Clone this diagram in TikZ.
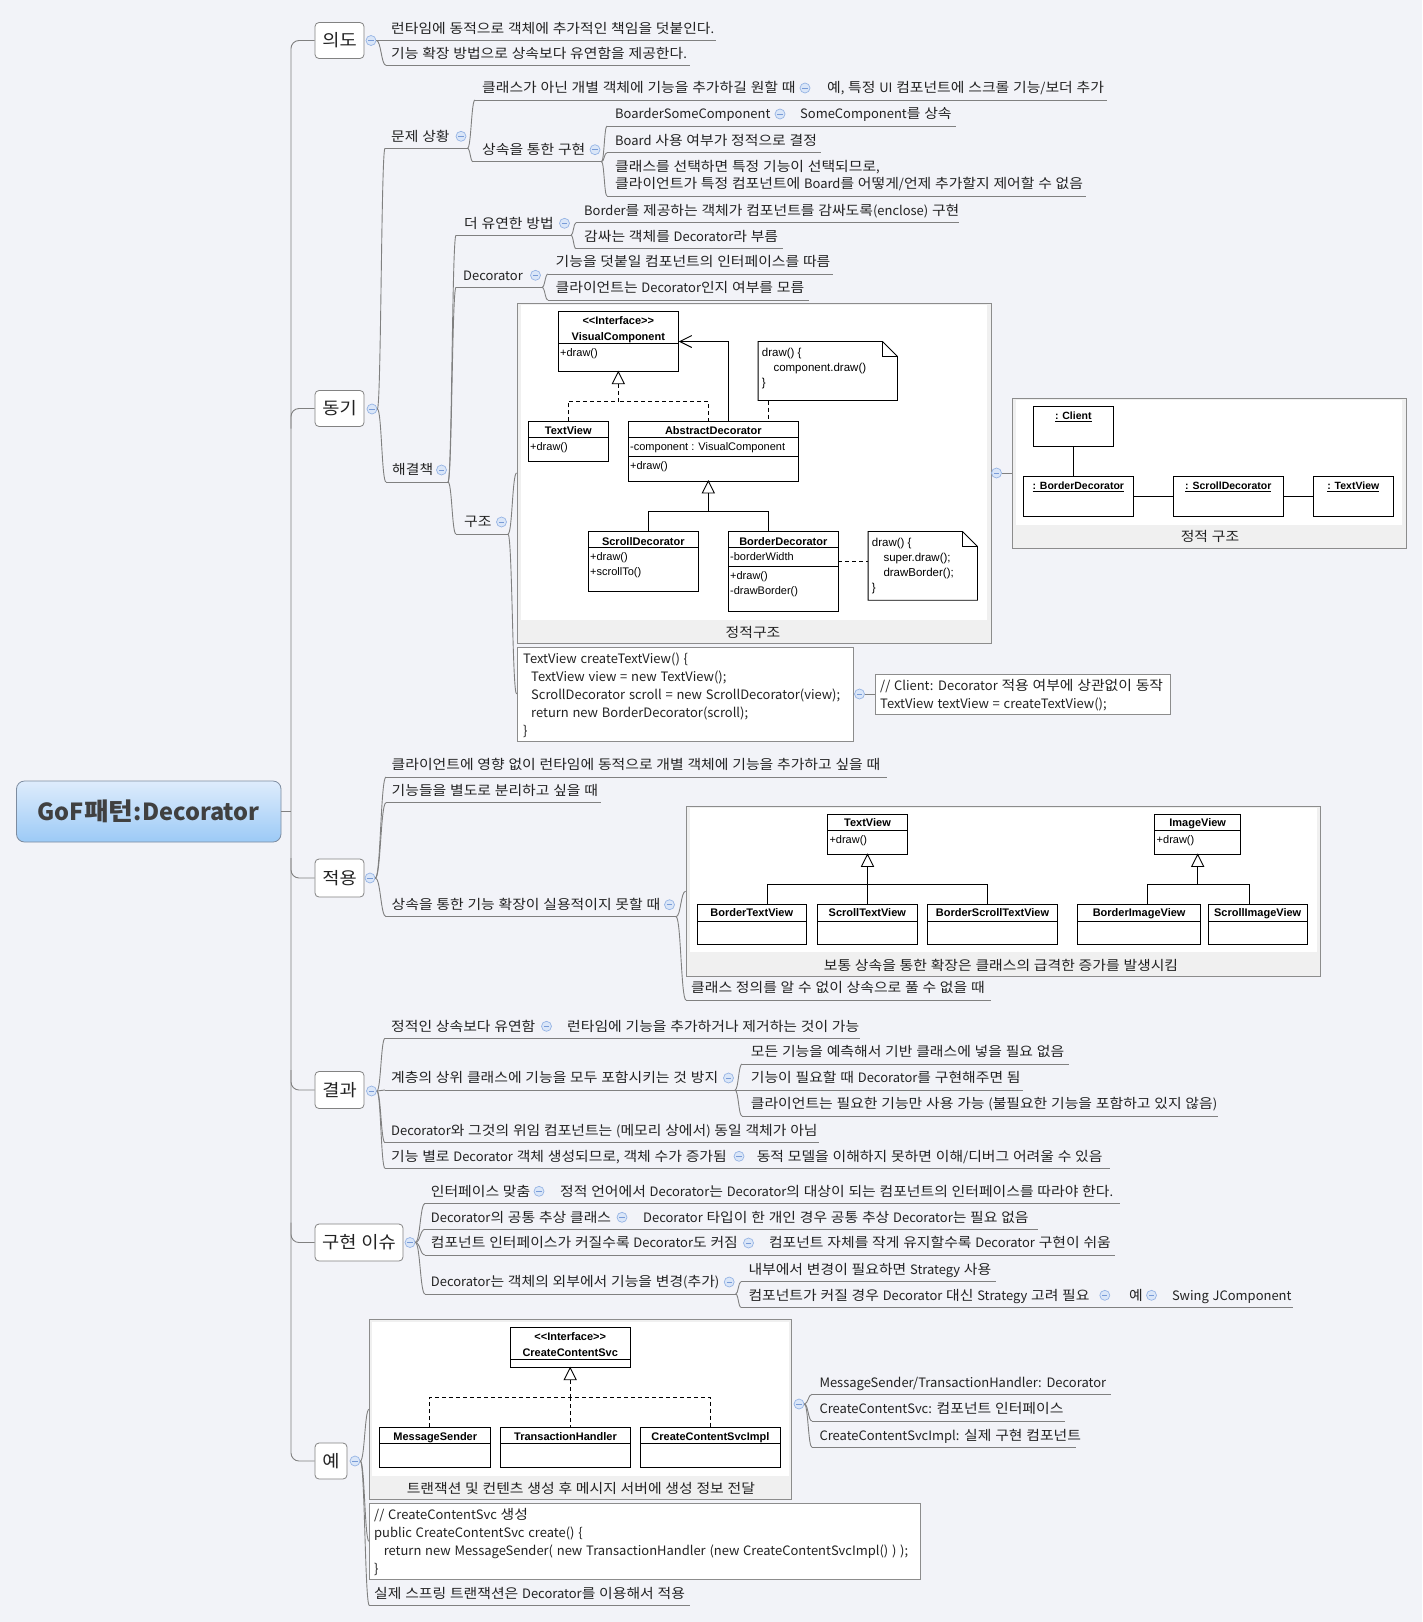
\documentclass[tikz,border=0pt]{standalone}
\usepackage{fontspec}
\setmainfont{Noto Sans CJK KR}[Scale=0.96,WordSpace=1.3]
\newfontfamily\krfont{Noto Sans CJK KR}[FakeStretch=1.1]
\newfontfamily\umlf{Liberation Sans}
\usetikzlibrary{calc,arrows.meta}

% Hangul syllables are set in a slightly wider face than the Latin text
\XeTeXinterchartokenstate=1
\newXeTeXintercharclass\krclass
\newcount\krcnt
\krcnt="AC00
\loop
  \XeTeXcharclass\krcnt=\krclass
  \advance\krcnt by 1
\ifnum\krcnt<"D7A4 \repeat
\XeTeXinterchartoks 0 \krclass = {\krfont}
\XeTeXinterchartoks 4095 \krclass = {\krfont}
\XeTeXinterchartoks \krclass 0 = {\rmfamily}
\XeTeXinterchartoks \krclass 4095 = {\rmfamily}

\definecolor{bgc}{RGB}{242,243,248}
\definecolor{lnc}{RGB}{128,128,128}
\definecolor{txt}{RGB}{34,34,34}
\definecolor{boxb}{RGB}{130,130,130}
\definecolor{colb}{RGB}{150,180,228}
\definecolor{colf}{RGB}{218,230,248}
\definecolor{colm}{RGB}{120,155,215}
\definecolor{rootb}{RGB}{125,140,160}
\definecolor{roott}{RGB}{222,236,252}
\definecolor{rootd}{RGB}{156,202,246}
\definecolor{roottx}{RGB}{64,64,64}
\definecolor{imgb}{RGB}{140,140,140}
\definecolor{capbg}{RGB}{240,240,240}

\newcommand\tsz{\fontsize{13.5}{17.3}\selectfont}
% topic: name, underline start x, text x, underline end x, underline y, text
\newcommand\tpc[6]{%
  \coordinate (#1-s) at (#2,#5);
  \coordinate (#1-e) at (#4,#5);
  \node[tp] (#1) at (#3,#5) {#6};
  \draw[ln] (#1-s) -- (#1-e);}
% collapse marker near the end of a topic's underline
\newcommand\tcol[1]{\node[col] (#1-c) at ($(#1-e)+(-6.5,-12)$) {};}
% curved branch from a parent point to a child point
\newcommand\conn[2]{\draw[ln] (#1) .. controls ($(#1)!.5!(#1 -| #2)$) and ($(#2)!.5!(#2 -| #1)$) .. (#2);}

\begin{document}
\begin{tikzpicture}[x=1pt,y=-1pt,
  ln/.style={draw=lnc,line width=0.9pt},
  tp/.style={anchor=south west,inner xsep=0pt,inner ysep=5pt,text height=12.2pt,text depth=2pt,font=\tsz,text=txt,align=left},
  col/.style={circle,draw=colb,fill=colf,minimum size=10pt,inner sep=0pt,line width=0.7pt,
    path picture={\draw[colm,line width=1pt] ([xshift=-2.6pt]path picture bounding box.center) -- ([xshift=2.6pt]path picture bounding box.center);}},
  l1/.style={draw=boxb,fill=white,rounded corners=4pt,minimum height=36pt,inner sep=0pt,font=\fontsize{17}{20}\selectfont,text=txt,line width=0.8pt},
  root/.style={draw=rootb,rounded corners=8pt,top color=roott,bottom color=rootd,minimum width=264.5pt,minimum height=61pt,inner sep=0pt,font=\bfseries\fontsize{24.5}{28}\selectfont,text=roottx,line width=0.8pt},
  imgbox/.style={draw=imgb,fill=capbg,inner sep=0pt,line width=0.8pt},
  codebox/.style={draw=imgb,fill=white,inner sep=0pt,line width=0.8pt},
  captxt/.style={inner sep=0pt,font=\tsz,text=txt},
  code/.style={anchor=base west,inner sep=0pt,font=\tsz,text=txt},
  cls/.style={draw=black,fill=white,line width=0.9pt,inner sep=0pt},
  um/.style={draw=black,line width=0.9pt},
  umd/.style={um,dash pattern=on 4pt off 3pt},
  ut/.style={anchor=base west,inner sep=0pt,font=\umlf\fontsize{11}{13}\selectfont},
  ub/.style={anchor=base,inner sep=0pt,font=\umlf\bfseries\fontsize{11}{13}\selectfont},
  uo/.style={anchor=base,inner sep=0pt,font=\umlf\bfseries\fontsize{10.5}{13}\selectfont},
  nt/.style={anchor=base west,inner sep=0pt,font=\umlf\fontsize{11.5}{14}\selectfont}
]
\path[use as bounding box,fill=bgc] (0,0) rectangle (1422,1622);

% ---------- root and first level ----------
\node[root] (root) at (148.75,811.5) {GoF패턴:Decorator};
\node[l1,minimum width=49pt] (yi) at (339.5,40.5) {의도};
\node[l1,minimum width=49pt] (dg) at (339.5,408.5) {동기};
\node[l1,minimum width=49pt,minimum height=38pt] (jy) at (339.5,878) {적용};
\node[l1,minimum width=49pt,minimum height=37pt] (gg) at (339.5,1090) {결과};
\node[l1,minimum width=88pt,minimum height=37pt] (gh) at (359,1242.5) {구현 이슈};
\node[l1,minimum width=32pt] (ye) at (331,1461) {예};

\coordinate (trunk) at (291,0);
\draw[ln,rounded corners=8pt] (yi.west) -| (root.east -| trunk) |- (ye.west);
\draw[ln] (root.east) -- (root.east -| trunk);
\draw[ln,rounded corners=8pt] ($(dg.west -| trunk)+(0,20)$) |- (dg.west);
\draw[ln,rounded corners=8pt] ($(jy.west -| trunk)+(0,-20)$) |- (jy.west);
\draw[ln,rounded corners=8pt] ($(gg.west -| trunk)+(0,-20)$) |- (gg.west);
\draw[ln,rounded corners=8pt] ($(gh.west -| trunk)+(0,-20)$) |- (gh.west);

\node[col] (yi-c) at (371,40.5) {};
\node[col] (dg-c) at (372,409) {};
\node[col] (jy-c) at (370,878) {};
\node[col] (gg-c) at (371.5,1091) {};
\node[col] (gh-c) at (410,1242.5) {};
\node[col] (ye-c) at (355,1461) {};

% ---------- 의도 ----------
\tpc{i1}{377}{391}{716}{40.5}{런타임에 동적으로 객체에 추가적인 책임을 덧붙인다.}
\tpc{i2}{386}{391}{690}{65.3}{기능 확장 방법으로 상속보다 유연함을 제공한다.}
\conn{yi-c.east}{i1-s}
\conn{yi-c.east}{i2-s}

% ---------- 동기 ----------
\tpc{m1}{385}{391}{467.5}{148.3}{문제 상황} \tcol{m1}
\tpc{m2}{386}{392}{448}{482}{해결책} \tcol{m2}
\conn{dg-c.east}{m1-s}
\conn{dg-c.east}{m2-s}

\tpc{p1}{475}{482}{811.5}{100}{클래스가 아닌 개별 객체에 기능을 추가하길 원할 때} \tcol{p1}
\tpc{p1a}{811.5}{827}{1107}{100}{예, 특정 UI 컴포넌트에 스크롤 기능/보더 추가}
\tpc{p2}{473}{482}{601.5}{161.7}{상속을 통한 구현} \tcol{p2}
\conn{m1-e}{p1-s}
\conn{m1-e}{p2-s}

\tpc{q1}{607}{615}{786.5}{126}{BoarderSomeComponent} \tcol{q1}
\tpc{q1a}{786.5}{800}{955.5}{126}{SomeComponent를 상속}
\tpc{q2}{607}{615}{820.5}{152.7}{Board 사용 여부가 정적으로 결정}
\tpc{q3}{607}{615}{1086}{196}{클래스를 선택하면 특정 기능이 선택되므로,\\클라이언트가 특정 컴포넌트에 Board를 어떻게/언제 추가할지 제어할 수 없음}
\conn{p2-e}{q1-s}
\conn{p2-e}{q2-s}
\conn{p2-e}{q3-s}

\tpc{s1}{456}{464}{571}{235.3}{더 유연한 방법} \tcol{s1}
\tpc{s2}{456}{463}{542}{287.3}{Decorator} \tcol{s2}
\tpc{s3}{456}{464}{508}{534}{구조} \tcol{s3}
\conn{m2-e}{s1-s}
\conn{m2-e}{s2-s}
\conn{m2-e}{s3-s}

\tpc{s1a}{576}{584}{959}{222.7}{Border를 제공하는 객체가 컴포넌트를 감싸도록(enclose) 구현}
\tpc{s1b}{576}{584}{783}{248.7}{감싸는 객체를 Decorator라 부름}
\conn{s1-e}{s1a-s}
\conn{s1-e}{s1b-s}
\tpc{s2a}{548}{555.5}{832.6}{274}{기능을 덧붙일 컴포넌트의 인터페이스를 따름}
\tpc{s2b}{548}{555.5}{808.6}{300}{클라이언트는 Decorator인지 여부를 모름}
\conn{s2-e}{s2a-s}
\conn{s2-e}{s2b-s}

% class diagram of the pattern
\node[imgbox,minimum width=474pt,minimum height=340pt] (box1) at (754,473) {};
\fill[white] (521,305) rectangle (987,620);
\node[captxt] (box1-t) at (753,632) {정적구조};
\conn{s3-e}{box1.west}

\node[cls,minimum width=120pt,minimum height=59.6pt] (vc) at (618.3,341.5) {};
\draw[um] (558.3,343.3) -- (678.3,343.3);
\node[ub] (vc-s) at (618.3,324) {<<Interface>>};
\node[ub] (vc-n) at (618.3,340.3) {VisualComponent};
\node[ut] (vc-m) at (560,356) {+draw()};

\node[cls,minimum width=80pt,minimum height=39.3pt] (tv) at (568.3,441.35) {};
\draw[um] (528.3,437.7) -- (608.3,437.7);
\node[ub] (tv-n) at (568.3,434.3) {TextView};
\node[ut] (tv-m) at (530,450.5) {+draw()};

\node[cls,minimum width=170pt,minimum height=59.3pt] (ad) at (713.3,451.35) {};
\draw[um] (628.3,437.7) -- (798.3,437.7);
\draw[um] (628.3,456.7) -- (798.3,456.7);
\node[ub] (ad-n) at (713.3,434.3) {AbstractDecorator};
\node[ut] (ad-a) at (630,450.5) {-component : VisualComponent};
\node[ut] (ad-m) at (630,469.5) {+draw()};

\draw[um,fill=white] (vc.south) -- ++(-6,12) -- ++(12,0) -- cycle;
\coordinate (rj) at (618.3,401);
\coordinate (adr) at (708.3,421.7);
\draw[umd] ($(vc.south)+(0,12)$) -- (rj);
\draw[umd] (tv.north) |- (rj);
\draw[umd] (adr) |- (rj);
\coordinate (ada) at (728.3,421.7);
\draw[um,-{Straight Barb[length=12pt,width=12pt]}] (ada) |- (vc.east);

\node[inner sep=0pt,minimum width=139pt,minimum height=58.6pt] (n1) at (827.8,371) {};
\draw[um,fill=white] (n1.north west) -- ([xshift=-15pt]n1.north east) -- ([yshift=-15pt]n1.north east) -- (n1.south east) -- (n1.south west) -- cycle;
\draw[um] ([xshift=-15pt]n1.north east) |- ([yshift=-15pt]n1.north east);
\node[nt] (n1-a) at (761.7,356) {draw() \{};
\node[nt] (n1-b) at (773.3,371) {component.draw()};
\node[nt] (n1-c) at (761.7,386) {\}};
\coordinate (n1b) at ($(n1.south west)+(10,0)$);
\draw[umd] (n1b) -- (n1b |- ad.north);

\coordinate (gA) at (708.3,481);
\draw[um,fill=white] (gA) -- ++(-6,12) -- ++(12,0) -- cycle;
\coordinate (gJ) at (708.3,511.7);
\draw[um] ($(gA)+(0,12)$) -- (gJ);
\coordinate (sdt) at (648.3,531.7);
\coordinate (bdt) at (768.3,531.7);
\draw[um] (sdt) |- (gJ) -| (bdt);

\node[cls,minimum width=110pt,minimum height=59.3pt] (sd) at (643.3,561.35) {};
\draw[um] (588.3,547.7) -- (698.3,547.7);
\node[ub] (sd-n) at (643.3,545) {ScrollDecorator};
\node[ut] (sd-m1) at (590,560.5) {+draw()};
\node[ut] (sd-m2) at (590,575.5) {+scrollTo()};

\node[cls,minimum width=110pt,minimum height=79.3pt] (bd) at (783.3,571.35) {};
\draw[um] (728.3,547.7) -- (838.3,547.7);
\draw[um] (728.3,566.7) -- (838.3,566.7);
\node[ub] (bd-n) at (783.3,545) {BorderDecorator};
\node[ut] (bd-a) at (730,560.5) {-borderWidth};
\node[ut] (bd-m1) at (730,579.5) {+draw()};
\node[ut] (bd-m2) at (730,594.5) {-drawBorder()};

\node[inner sep=0pt,minimum width=109pt,minimum height=68.3pt] (n2) at (922.8,565.85) {};
\draw[um,fill=white] (n2.north west) -- ([xshift=-15pt]n2.north east) -- ([yshift=-15pt]n2.north east) -- (n2.south east) -- (n2.south west) -- cycle;
\draw[um] ([xshift=-15pt]n2.north east) |- ([yshift=-15pt]n2.north east);
\node[nt] (n2-a) at (871.7,546) {draw() \{};
\node[nt] (n2-b) at (883.3,561) {super.draw();};
\node[nt] (n2-c) at (883.3,576) {drawBorder();};
\node[nt] (n2-d) at (871.7,591) {\}};
\coordinate (bdn) at (838.3,561);
\draw[umd] (bdn) -- (bdn -| n2.west);

% object diagram
\node[col] (box1-c) at (996.5,473) {};
\node[imgbox,minimum width=394pt,minimum height=150pt] (box2) at (1209,473) {};
\fill[white] (1016,400) rectangle (1402,525);
\node[captxt] (box2-t) at (1210,536.5) {정적 구조};
\draw[ln] (box1-c.east) -- (box2.west);

\node[cls,minimum width=80pt,minimum height=40.7pt] (oc) at (1073.3,426.35) {};
\node[uo] (oc-n) at (1073.3,419.3) {\underline{: Client}};
\node[cls,minimum width=110pt,minimum height=40pt] (ob) at (1078.3,496.7) {};
\node[uo] (ob-n) at (1078.3,489.3) {\underline{: BorderDecorator}};
\node[cls,minimum width=110pt,minimum height=40pt] (os) at (1228.3,496.7) {};
\node[uo] (os-n) at (1228.3,489.3) {\underline{: ScrollDecorator}};
\node[cls,minimum width=80pt,minimum height=40pt] (ot) at (1353.3,496.7) {};
\node[uo] (ot-n) at (1353.3,489.3) {\underline{: TextView}};
\draw[um] (oc.south) -- (oc.south |- ob.north);
\draw[um] (ob.east) -- (os.west);
\draw[um] (os.east) -- (ot.west);

% client code
\node[codebox,minimum width=336pt,minimum height=94pt] (code1) at (685,694) {};
\conn{s3-e}{code1.west}
\node[code] (k1) at (523,663) {TextView createTextView() \{};
\node[code] (k2) at (531,681) {TextView view = new TextView();};
\node[code] (k3) at (531,699) {ScrollDecorator scroll = new ScrollDecorator(view);};
\node[code] (k4) at (531,717) {return new BorderDecorator(scroll);};
\node[code] (k5) at (523,735) {\}};
\node[col] (code1-c) at (859.5,694) {};
\node[codebox,minimum width=295pt,minimum height=40pt] (c2) at (1022.5,694) {};
\draw[ln] (code1-c.east) -- (c2.west);
\node[code] (c2-a) at (880,690) {// Client: Decorator 적용 여부에 상관없이 동작};
\node[code] (c2-b) at (880,708) {TextView textView = createTextView();};

% ---------- 적용 ----------
\tpc{a1}{386}{391.5}{887}{777}{클라이언트에 영향 없이 런타임에 동적으로 개별 객체에 기능을 추가하고 싶을 때}
\tpc{a2}{386}{391.5}{601}{802.7}{기능들을 별도로 분리하고 싶을 때}
\tpc{a3}{386}{391.5}{676}{916.7}{상속을 통한 기능 확장이 실용적이지 못할 때} \tcol{a3}
\conn{jy-c.east}{a1-s}
\conn{jy-c.east}{a2-s}
\conn{jy-c.east}{a3-s}

\node[imgbox,minimum width=634pt,minimum height=170.5pt] (box3) at (1003,891.25) {};
\fill[white] (689.5,808) rectangle (1316.5,952);
\node[captxt] (box3-t) at (1001,965) {보통 상속을 통한 확장은 클래스의 급격한 증가를 발생시킴};
\conn{a3-e}{box3.west}
\tpc{a3b}{686}{691}{991}{1000}{클래스 정의를 알 수 없이 상속으로 풀 수 없을 때}
\conn{a3-e}{a3b-s}

\node[cls,minimum width=80.4pt,minimum height=39.7pt] (tv3) at (867.5,834.15) {};
\draw[um] (827.3,830) -- (907.7,830);
\node[ub] (tv3-n) at (867.5,826.7) {TextView};
\node[ut] (tv3-m) at (829.3,843) {+draw()};
\node[cls,minimum width=86.3pt,minimum height=39.7pt] (iv3) at (1197.65,834.15) {};
\draw[um] (1154.5,830) -- (1240.8,830);
\node[ub] (iv3-n) at (1197.65,826.7) {ImageView};
\node[ut] (iv3-m) at (1156.5,843) {+draw()};

\node[cls,minimum width=109.5pt,minimum height=40pt] (bt) at (751.75,924.3) {};
\node[cls,minimum width=100pt,minimum height=40pt] (st) at (867.3,924.3) {};
\node[cls,minimum width=130.4pt,minimum height=40pt] (bst) at (992.5,924.3) {};
\node[cls,minimum width=123.3pt,minimum height=40pt] (bi) at (1139.15,924.3) {};
\node[cls,minimum width=99.3pt,minimum height=40pt] (si) at (1257.65,924.3) {};
\draw[um] (697,921) -- (806.5,921);
\draw[um] (817.3,921) -- (917.3,921);
\draw[um] (927.3,921) -- (1057.7,921);
\draw[um] (1077.5,921) -- (1200.8,921);
\draw[um] (1208,921) -- (1307.3,921);
\node[ub] (bt-n) at (751.75,916.7) {BorderTextView};
\node[ub] (st-n) at (867.3,916.7) {ScrollTextView};
\node[ub] (bst-n) at (992.5,916.7) {BorderScrollTextView};
\node[ub] (bi-n) at (1139.15,916.7) {BorderImageView};
\node[ub] (si-n) at (1257.65,916.7) {ScrollImageView};

\draw[um,fill=white] (tv3.south) -- ++(-6,12) -- ++(12,0) -- cycle;
\coordinate (tj) at (867.5,884.3);
\draw[um] ($(tv3.south)+(0,12)$) -- (tj);
\coordinate (bt1) at (767.3,904.3);
\coordinate (bt3) at (987.4,904.3);
\draw[um] (bt1) |- (tj) -| (bt3);
\draw[um] (tj) -- (tj |- st.north);
\draw[um,fill=white] (iv3.south) -- ++(-6,12) -- ++(12,0) -- cycle;
\coordinate (ij) at (1197.65,884.3);
\draw[um] ($(iv3.south)+(0,12)$) -- (ij);
\coordinate (bi1) at (1147.4,904.3);
\coordinate (bi2) at (1249.2,904.3);
\draw[um] (bi1) |- (ij) -| (bi2);

% ---------- 결과 ----------
\tpc{r1}{385}{391}{553}{1038.3}{정적인 상속보다 유연함} \tcol{r1}
\tpc{r1a}{553}{567}{860.4}{1038.3}{런타임에 기능을 추가하거나 제거하는 것이 가능}
\tpc{r2}{385}{391}{735}{1090}{계층의 상위 클래스에 기능을 모두 포함시키는 것 방지} \tcol{r2}
\tpc{r2a}{742}{750.7}{1068.8}{1064}{모든 기능을 예측해서 기반 클래스에 넣을 필요 없음}
\tpc{r2b}{742}{750.7}{1023}{1090}{기능이 필요할 때 Decorator를 구현해주면 됨}
\tpc{r2c}{742}{750.7}{1218}{1116}{클라이언트는 필요한 기능만 사용 가능 (불필요한 기능을 포함하고 있지 않음)}
\tpc{r3}{385}{391}{819.4}{1142.7}{Decorator와 그것의 위임 컴포넌트는 (메모리 상에서) 동일 객체가 아님}
\tpc{r4}{385}{391}{745.5}{1168.3}{기능 별로 Decorator 객체 생성되므로, 객체 수가 증가됨} \tcol{r4}
\tpc{r4a}{745.5}{756.6}{1110}{1168.3}{동적 모델을 이해하지 못하면 이해/디버그 어려울 수 있음}
\conn{gg-c.east}{r1-s}
\conn{gg-c.east}{r2-s}
\conn{gg-c.east}{r3-s}
\conn{gg-c.east}{r4-s}
\conn{r2-e}{r2a-s}
\conn{r2-e}{r2b-s}
\conn{r2-e}{r2c-s}

% ---------- 구현 이슈 ----------
\tpc{u1}{425}{430.7}{545.5}{1203.3}{인터페이스 맞춤} \tcol{u1}
\tpc{u1a}{545.5}{560}{1119.5}{1203.3}{정적 언어에서 Decorator는 Decorator의 대상이 되는 컴포넌트의 인터페이스를 따라야 한다.}
\tpc{u2}{425}{430.7}{628.5}{1229.3}{Decorator의 공통 추상 클래스} \tcol{u2}
\tpc{u2a}{628.5}{643}{1038}{1229.3}{Decorator 타입이 한 개인 경우 공통 추상 Decorator는 필요 없음}
\tpc{u3}{425}{430.7}{755}{1255}{컴포넌트 인터페이스가 커질수록 Decorator도 커짐} \tcol{u3}
\tpc{u3a}{755}{768.8}{1115}{1255}{컴포넌트 자체를 작게 유지할수록 Decorator 구현이 쉬움}
\tpc{u4}{425}{430.7}{735.7}{1294}{Decorator는 객체의 외부에서 기능을 변경(추가)} \tcol{u4}
\tpc{u4a}{741}{748.3}{996.4}{1281.7}{내부에서 변경이 필요하면 Strategy 사용}
\tpc{u4b}{741}{748.3}{1111.3}{1307.3}{컴포넌트가 커질 경우 Decorator 대신 Strategy 고려 필요} \tcol{u4b}
\tpc{u4c}{1111.3}{1129}{1158}{1307.3}{예} \tcol{u4c}
\tpc{u4d}{1158}{1171.8}{1293}{1307.3}{Swing JComponent}
\conn{gh-c.east}{u1-s}
\conn{gh-c.east}{u2-s}
\conn{gh-c.east}{u3-s}
\conn{gh-c.east}{u4-s}
\conn{u4-e}{u4a-s}
\conn{u4-e}{u4b-s}

% ---------- 예 ----------
\node[imgbox,minimum width=422.4pt,minimum height=180pt] (box4) at (580.6,1409.3) {};
\fill[white] (372,1321.5) rectangle (788.5,1475.7);
\node[captxt] (box4-t) at (580.9,1488.3) {트랜잭션 및 컨텐츠 생성 후 메시지 서버에 생성 정보 전달};
\node[codebox,minimum width=551.2pt,minimum height=76pt] (code2) at (645,1541.3) {};
\node[code] (x1) at (374,1519) {// CreateContentSvc 생성};
\node[code] (x2) at (374,1537) {public CreateContentSvc create() \{};
\node[code] (x3) at (383.6,1555) {return new MessageSender( new TransactionHandler (new CreateContentSvcImpl() ) );};
\node[code] (x4) at (374,1573) {\}};
\tpc{e3}{369.4}{374}{690.3}{1605.7}{실제 스프링 트랜잭션은 Decorator를 이용해서 적용}
\conn{ye-c.east}{box4.west}
\conn{ye-c.east}{code2.west}
\conn{ye-c.east}{e3-s}

\node[cls,minimum width=120.4pt,minimum height=40pt] (ccs) at (570.2,1347.3) {};
\draw[um] (510,1359.3) -- (630.4,1359.3);
\node[ub] (ccs-s) at (570.2,1340) {<<Interface>>};
\node[ub] (ccs-n) at (570.2,1356.7) {CreateContentSvc};
\draw[um,fill=white] (ccs.south) -- ++(-6,12) -- ++(12,0) -- cycle;
\coordinate (cj) at (570.2,1397.3);
\draw[umd] ($(ccs.south)+(0,12)$) -- (cj);
\node[cls,minimum width=110.9pt,minimum height=40pt] (ms) at (435.25,1447.3) {};
\node[cls,minimum width=129.8pt,minimum height=40pt] (th) at (565.5,1447.3) {};
\node[cls,minimum width=140.2pt,minimum height=40pt] (csi) at (710.4,1447.3) {};
\draw[um] (379.8,1443.3) -- (490.7,1443.3);
\draw[um] (500.6,1443.3) -- (630.4,1443.3);
\draw[um] (640.3,1443.3) -- (780.5,1443.3);
\node[ub] (ms-n) at (435.25,1440.7) {MessageSender};
\node[ub] (th-n) at (565.5,1440.7) {TransactionHandler};
\node[ub] (csi-n) at (710.4,1440.7) {CreateContentSvcImpl};
\coordinate (msj) at (429.8,1427.3);
\coordinate (csj) at (710.6,1427.3);
\draw[umd] (msj) |- (cj) -| (csj);
\draw[umd] (cj) -- (cj |- th.north);

\node[col] (box4-c) at (799,1404) {};
\tpc{b4a}{812}{819.3}{1111}{1394.3}{MessageSender/TransactionHandler: Decorator}
\tpc{b4b}{812}{819.3}{1065}{1421}{CreateContentSvc: 컴포넌트 인터페이스}
\tpc{b4c}{812}{819.3}{1076}{1447.3}{CreateContentSvcImpl: 실제 구현 컴포넌트}
\conn{box4-c.east}{b4a-s}
\conn{box4-c.east}{b4b-s}
\conn{box4-c.east}{b4c-s}
\end{tikzpicture}
\end{document}
